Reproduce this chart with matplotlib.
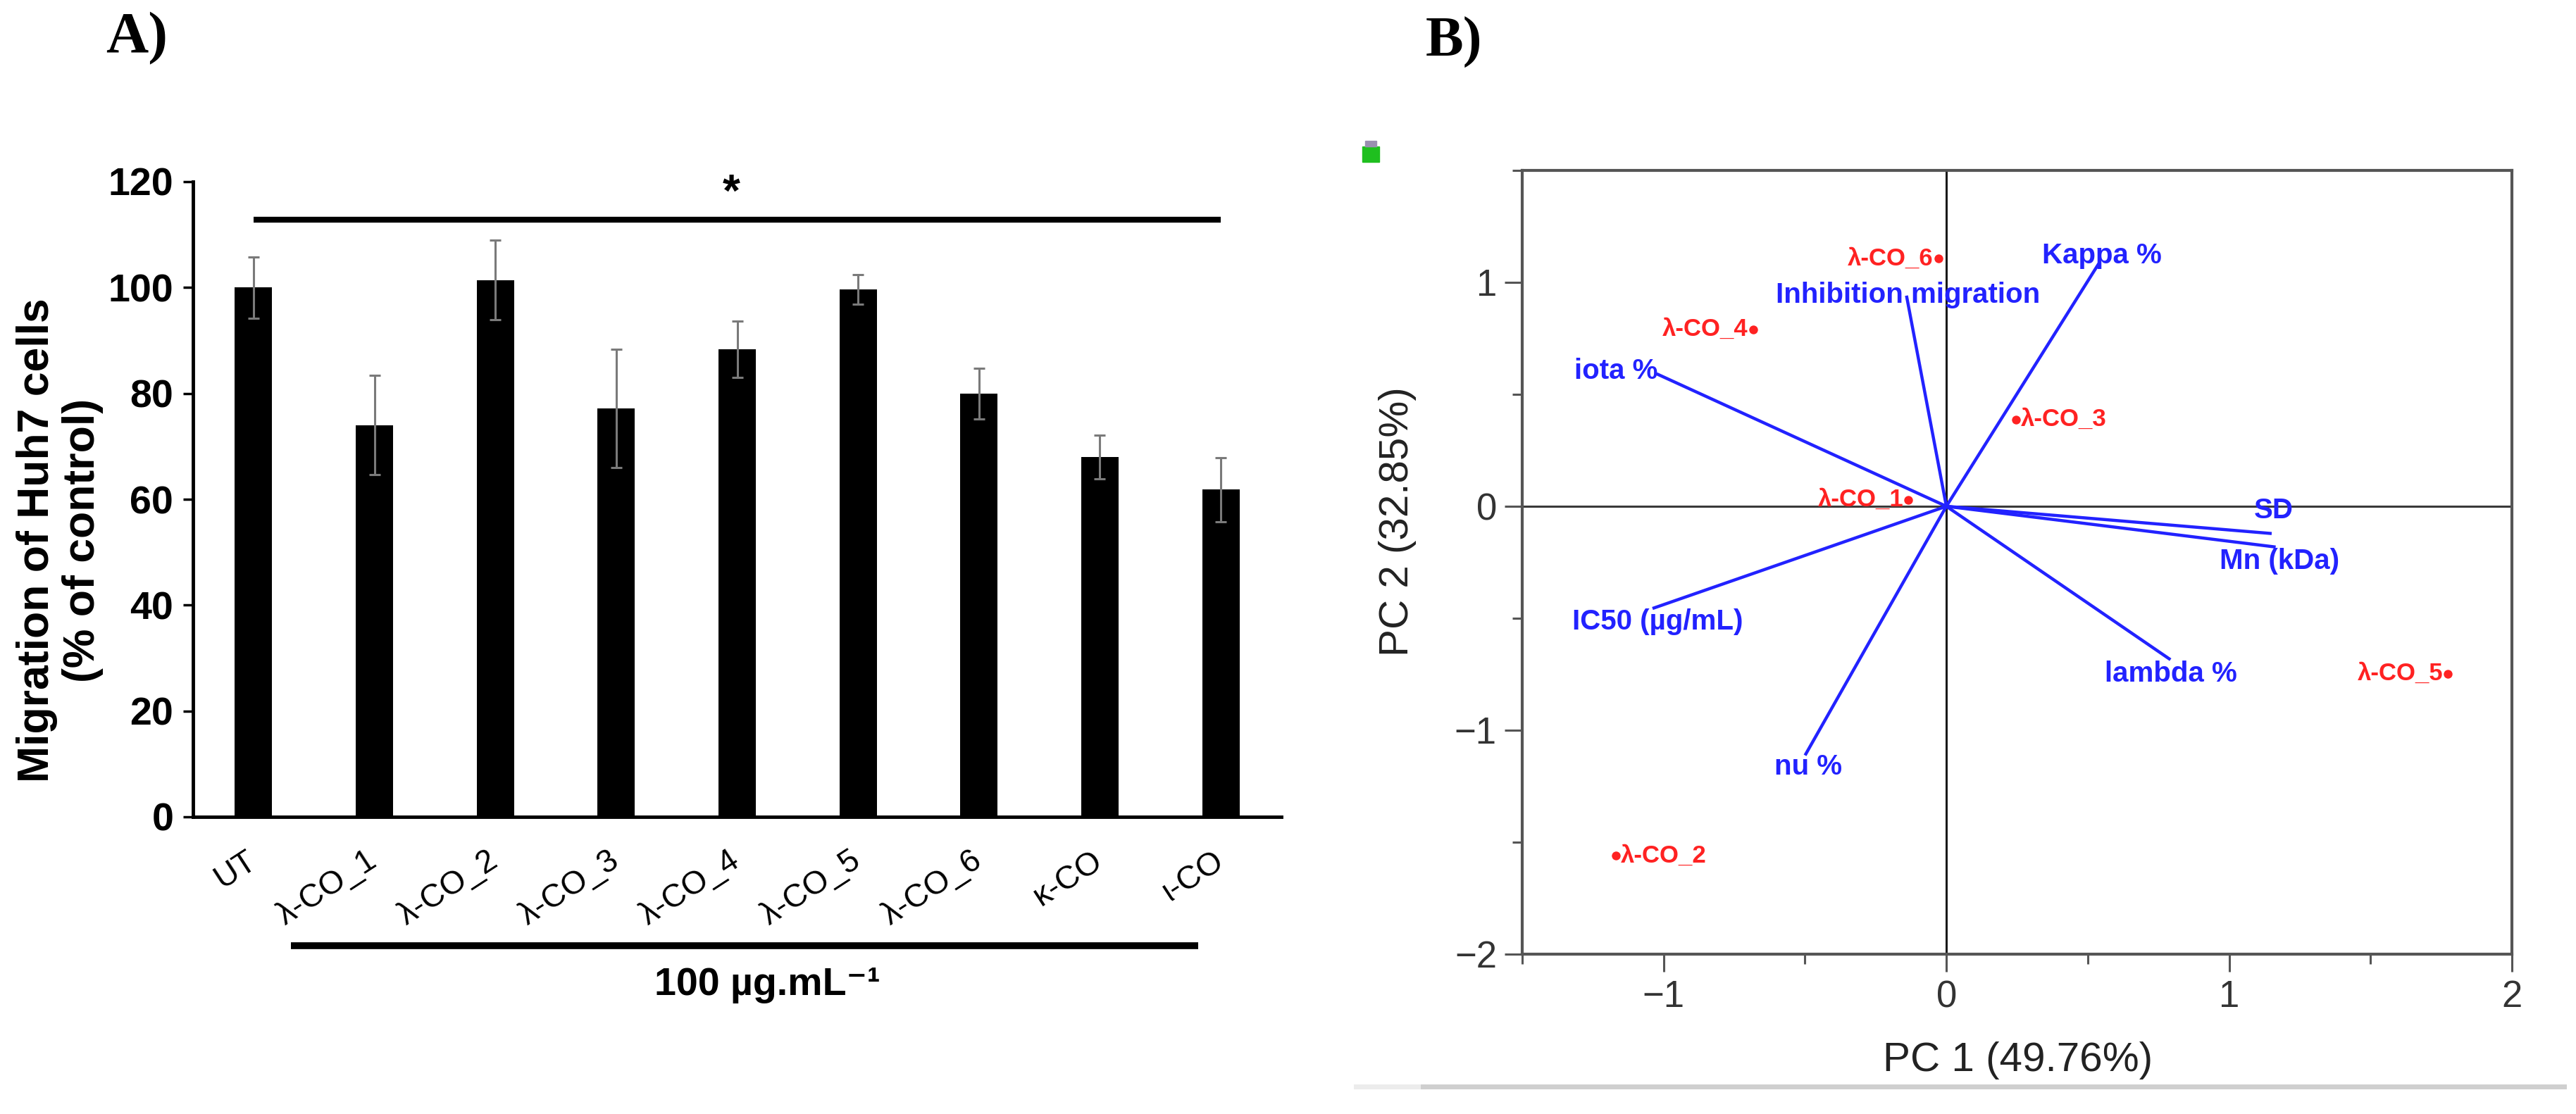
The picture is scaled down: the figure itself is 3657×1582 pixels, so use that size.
import matplotlib
matplotlib.use("Agg")
import matplotlib.pyplot as plt
from matplotlib.ticker import MultipleLocator
from matplotlib.patches import Rectangle
from matplotlib.lines import Line2D

# --- panel A: migration of Huh7 cells ---
groups = ['UT', 'λ-CO_1', 'λ-CO_2', 'λ-CO_3', 'λ-CO_4', 'λ-CO_5', 'λ-CO_6', 'κ-CO', 'ι-CO']
migration = [100.0, 74.0, 101.4, 77.2, 88.3, 99.6, 79.9, 68.0, 61.8]
migration_err = [5.8, 9.4, 7.5, 11.2, 5.3, 2.8, 4.8, 4.1, 6.1]
sig_level = 112.8

# --- panel B: PCA biplot ---
samples = ['λ-CO_1', 'λ-CO_2', 'λ-CO_3', 'λ-CO_4', 'λ-CO_5', 'λ-CO_6']
score_pc1 = [-0.134, -1.168, 0.246, -0.684, 1.774, -0.028]
score_pc2 = [0.029, -1.560, 0.388, 0.790, -0.747, 1.106]

variables = ['Kappa %', 'Inhibition migration', 'iota %', 'IC50 (µg/mL)',
             'nu %', 'lambda %', 'Mn (kDa)', 'SD']
load_pc1 = [0.536, -0.140, -1.020, -1.034, -0.497, 0.788, 1.159, 1.145]
load_pc2 = [1.078, 0.934, 0.589, -0.454, -1.106, -0.681, -0.181, -0.121]

NARROW = ['Liberation Sans Narrow', 'Liberation Sans', 'DejaVu Sans']
SANS = ['Liberation Sans', 'DejaVu Sans']
SERIF = ['Liberation Serif', 'DejaVu Serif']

W, H = 3657, 1582
fig = plt.figure(figsize=(W / 100, H / 100), dpi=100)

# ---------------- A) bar chart ----------------
ax1 = fig.add_axes([274 / W, 1 - 1160 / H, (1819 - 274) / W, (1160 - 258) / H])
x = list(range(len(groups)))
ax1.bar(x, migration, width=0.31, color='black', zorder=2)
ax1.errorbar(x, migration, yerr=migration_err, fmt='none', ecolor='#7a7a7a',
             elinewidth=2.2, capsize=6, capthick=2.2, zorder=3)
ax1.set_xlim(-0.5, len(groups) - 0.5)
ax1.set_ylim(0, 120)
ax1.set_yticks(range(0, 121, 20))
for side in ['top', 'right']:
    ax1.spines[side].set_visible(False)
ax1.spines['left'].set_linewidth(3.5)
ax1.spines['bottom'].set_linewidth(3.5)
ax1.tick_params(axis='y', direction='out', length=10, width=2.5, pad=10)
ax1.tick_params(axis='x', length=0, pad=42)
ax1.set_xticks(x)
ax1.set_xticklabels(groups, rotation=33, ha='right', va='center',
                    rotation_mode='anchor', family=NARROW, fontsize=33)
for lab in ax1.get_yticklabels():
    lab.set_family(NARROW)
    lab.set_fontweight('bold')
    lab.set_fontsize(40)
fig.text(85 / W, 1 - 767 / H, 'Migration of Huh7 cells\n(% of control)', rotation=90,
         ha='center', va='center', family=SANS, fontweight='bold', fontsize=45,
         linespacing=1.15)

# significance bar and star
ax1.plot([0, len(groups) - 1], [sig_level, sig_level], color='black', lw=6,
         solid_capstyle='butt', clip_on=False)
ax1.text(3.95, sig_level + 0.8, '*', ha='center', va='bottom', fontsize=46,
         fontweight='bold', family=SANS)

# treatment bracket under the labels
trans = ax1.get_xaxis_transform()
ax1.add_line(Line2D([0.31, 7.81], [-0.203, -0.203], transform=trans, color='black',
                    lw=7, solid_capstyle='butt', clip_on=False))
ax1.text(4.25, -0.265, '100 µg.mL⁻¹', transform=trans, ha='center', va='center',
         family=NARROW, fontweight='bold', fontsize=40)

# ---------------- B) PCA biplot ----------------
ax2 = fig.add_axes([2161 / W, 1 - 1355 / H, (3566 - 2161) / W, (1355 - 242) / H])
ax2.set_xlim(-1.5, 2)
ax2.set_ylim(-2, 1.5)
ax2.axhline(0, color='#3a3a3a', lw=2.2, zorder=1)
ax2.axvline(0, color='#1a1a1a', lw=2.2, zorder=1)

blue = '#2222ff'
red = '#ff2222'
# label offsets (pixels) relative to arrow tips
var_offsets = [(6, 13, 'center'), (2, 3, 'center'), (0, 5, 'right'), (5, -20, 'center'),
               (3, -18, 'center'), (2, -21, 'center'), (8, -20, 'center'), (5, 32, 'center')]
for name, lx, ly, (dx, dy, ha) in zip(variables, load_pc1, load_pc2, var_offsets):
    ax2.plot([0, lx], [0, ly], color=blue, lw=3.2, zorder=2)
    ax2.annotate(name, (lx, ly), xytext=(dx * 0.72, dy * 0.72), textcoords='offset points',
                 ha=ha, va='center', color=blue, fontsize=29, fontweight='bold',
                 family=SANS, zorder=4)

ax2.scatter(score_pc1, score_pc2, s=80, color=red, zorder=5, linewidths=0)
sample_side = ['right', 'left', 'left', 'right', 'right', 'right']
for name, sx, sy, ha in zip(samples, score_pc1, score_pc2, sample_side):
    off = -7 if ha == 'right' else 7
    ax2.annotate(name, (sx, sy), xytext=(off * 0.72, 0), textcoords='offset points',
                 ha=ha, va='center', color=red, fontsize=25, fontweight='bold',
                 family=SANS, zorder=5)

ax2.set_xticks([-1, 0, 1, 2])
ax2.set_yticks([-2, -1, 0, 1])
ax2.xaxis.set_minor_locator(MultipleLocator(0.5))
ax2.yaxis.set_minor_locator(MultipleLocator(0.5))
for sp in ax2.spines.values():
    sp.set_linewidth(3)
    sp.set_color('#555555')
ax2.tick_params(which='major', direction='out', length=18, width=2.2, color='#555555',
                labelsize=38, labelcolor='#333333', pad=8)
ax2.tick_params(which='minor', direction='out', length=10, width=2.2, color='#555555')
for lab in ax2.get_xticklabels() + ax2.get_yticklabels():
    lab.set_family(SANS)
fig.text(2865 / W, 1 - 1506 / H, 'PC 1 (49.76%)', ha='center', va='center',
         fontsize=42, color='#222222', family=SANS)
fig.text(1984 / W, 1 - 741 / H, 'PC 2 (32.85%)', ha='center', va='center',
         rotation=90, fontsize=42, color='#222222', family=SANS)

# panel letters
fig.text(194 / W, 1 - 55 / H, 'A)', ha='center', va='center', fontsize=60,
         fontweight='bold', family=SERIF)
fig.text(2064 / W, 1 - 60 / H, 'B)', ha='center', va='center', fontsize=58,
         fontweight='bold', family=SERIF)

# small green icon and grey rule from the source figure
fig.patches.append(Rectangle((1934 / W, 1 - 230 / H), 24 / W, 22 / H, color='#1fbf1f',
                             transform=fig.transFigure))
fig.patches.append(Rectangle((1938 / W, 1 - 208 / H), 16 / W, 8 / H, color='#9a8fb0',
                             transform=fig.transFigure))
fig.lines.append(Line2D([1925 / W, 2020 / W], [1 - 1543 / H] * 2, color='#ececec', lw=5,
                        transform=fig.transFigure))
fig.lines.append(Line2D([2020 / W, 3640 / W], [1 - 1543 / H] * 2, color='#cfcfcf', lw=5,
                        transform=fig.transFigure))

fig.savefig('out.png', dpi=100)
